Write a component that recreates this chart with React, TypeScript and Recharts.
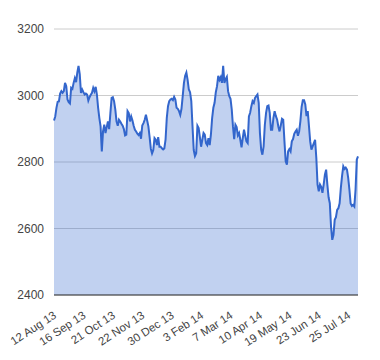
import { Area, AreaChart, CartesianGrid, ReferenceLine, XAxis, YAxis } from 'recharts';

const closes = [
  2925, 2937, 2963, 2981, 2982, 3006, 3013, 3008, 3013, 3038, 3028, 2988, 2980, 2976, 3023, 3020, 3038, 3052, 3040, 3069, 3089, 3064, 3008, 3018,
  3010, 3003, 3006, 3003, 2985, 2995, 3002, 3008, 3023, 3013, 3026, 3003, 2963, 2932, 2907, 2832, 2892, 2912, 2887, 2905, 2922, 2899, 2947, 2993,
  2995, 2983, 2958, 2922, 2909, 2927, 2922, 2915, 2909, 2899, 2880, 2882, 2953, 2947, 2922, 2937, 2925, 2909, 2897, 2892, 2885, 2881, 2887, 2870,
  2910, 2917, 2927, 2942, 2925, 2907, 2875, 2840, 2826, 2836, 2872, 2867, 2851, 2875, 2846, 2846, 2841, 2838, 2841, 2867, 2932, 2968, 2983, 2988,
  2990, 2986, 2996, 2988, 2963, 2960, 2953, 2942, 2960, 2998, 3038, 3059, 3069, 3047, 3018, 3010, 2983, 2907, 2836, 2818, 2826, 2909, 2902, 2875,
  2846, 2867, 2887, 2882, 2857, 2851, 2872, 2851, 2882, 2932, 2963, 2978, 3010, 3028, 3059, 3047, 3055, 3038, 3089, 3038, 3049, 3056, 3013, 2998,
  2990, 2958, 2907, 2869, 2912, 2905, 2880, 2887, 2867, 2844, 2872, 2897, 2879, 2862, 2857, 2937, 2948, 2968, 2983, 2978, 2993, 2998, 3003, 2978,
  2887, 2837, 2822, 2847, 2912, 2948, 2968, 2970, 2948, 2897, 2897, 2933, 2953, 2938, 2928, 2907, 2892, 2910, 2930, 2927, 2862, 2802, 2792, 2832,
  2839, 2832, 2862, 2869, 2885, 2892, 2897, 2879, 2892, 2923, 2966, 2986, 2986, 2973, 2938, 2953, 2908, 2862, 2837, 2847, 2857, 2867, 2812, 2732,
  2712, 2732, 2725, 2707, 2732, 2762, 2777, 2732, 2694, 2676, 2606, 2566, 2581, 2626, 2634, 2656, 2661, 2676, 2722, 2758, 2787, 2779, 2783, 2777,
  2752, 2717, 2675, 2668, 2671, 2666, 2717, 2807, 2817
];

const dateLabels = [
  '12 Aug 13', '16 Sep 13', '21 Oct 13', '22 Nov 13', '30 Dec 13', '3 Feb 14',
  '7 Mar 14', '10 Apr 14', '19 May 14', '23 Jun 14', '25 Jul 14'
];

const labelEvery = 24;
const yTicks = [2400, 2600, 2800, 3000, 3200];

const data = closes.map((v, i) => ({ i, v }));
const xTicks = dateLabels.map((_, k) => k * labelEvery);

const font = 'Arial, "Liberation Sans", sans-serif';

function DateTick({ x, y, payload }: any) {
  const label = dateLabels[Math.round(payload.value / labelEvery)];
  const ax = x + 1;
  const ay = y + 11;
  return (
    <text
      x={ax}
      y={ay}
      dy={4}
      textAnchor="end"
      transform={`rotate(-33, ${ax}, ${ay})`}
      fill="#444"
      fontSize={11.5}
      fontFamily={font}
    >
      {label}
    </text>
  );
}

export default function App() {
  return (
    <div style={{ margin: -8 }}>
      <AreaChart width={380} height={360} data={data} margin={{ top: 29, right: 22, left: 0, bottom: 0 }}>
        <CartesianGrid vertical={false} stroke="#ccc" />
        <XAxis
          dataKey="i"
          type="number"
          domain={[0, closes.length - 1]}
          ticks={xTicks}
          tick={<DateTick />}
          tickLine={false}
          axisLine={false}
          height={65}
          interval={0}
        />
        <YAxis
          domain={[2400, 3200]}
          ticks={yTicks}
          width={54}
          tickLine={false}
          axisLine={false}
          tickMargin={4}
          tick={{ fill: '#444', fontSize: 12, fontFamily: font }}
        />
        <Area
          type="linear"
          dataKey="v"
          stroke="#3366cc"
          strokeWidth={2}
          fill="#3366cc"
          fillOpacity={0.3}
          dot={false}
          isAnimationActive={false}
        />
        <ReferenceLine y={2400} stroke="#333" strokeWidth={1} />
      </AreaChart>
    </div>
  );
}
